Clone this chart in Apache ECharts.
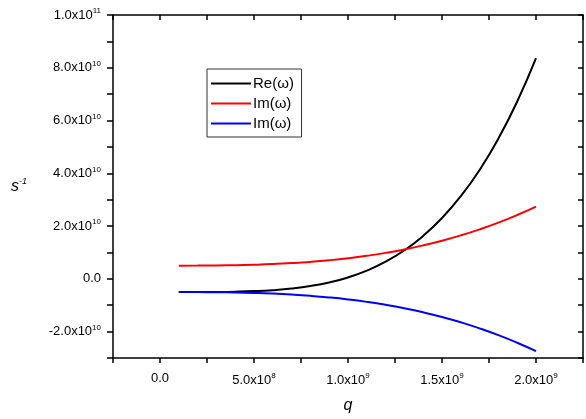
<!DOCTYPE html>
<html>
<head>
<meta charset="utf-8">
<script src="https://cdn.jsdelivr.net/npm/echarts@6/dist/echarts.min.js"></script>
<style>
  html, body { margin: 0; padding: 0; background: #fff; }
  #chart { width: 586px; height: 419px; }
</style>
</head>
<body>
<div id="chart"></div>
<script>
// q values (1/m) and the three branches
var qValues = [1e8, 2e8, 3e8, 4e8, 5e8, 6e8, 7e8, 8e8, 9e8, 1.0e9,
  1.1e9, 1.2e9, 1.3e9, 1.4e9, 1.5e9, 1.6e9, 1.7e9, 1.8e9, 1.9e9, 2.0e9];
var reValues = [-5.0e9, -4.99e9, -4.96e9, -4.86e9, -4.65e9, -4.28e9, -3.67e9, -2.73e9, -1.37e9, 0.54e9,
  3.11e9, 6.49e9, 1.082e10, 1.628e10, 2.305e10, 3.131e10, 4.127e10, 5.316e10, 6.72e10, 8.364e10];
var imUpper = [5.0e9, 5.02e9, 5.08e9, 5.18e9, 5.35e9, 5.6e9, 5.96e9, 6.43e9, 7.04e9, 7.8e9,
  8.73e9, 9.84e9, 1.115e10, 1.268e10, 1.445e10, 1.647e10, 1.876e10, 2.133e10, 2.421e10, 2.74e10];
var imLower = [-5.0e9, -5.02e9, -5.08e9, -5.18e9, -5.35e9, -5.6e9, -5.96e9, -6.43e9, -7.04e9, -7.8e9,
  -8.73e9, -9.84e9, -1.115e10, -1.268e10, -1.445e10, -1.647e10, -1.876e10, -2.133e10, -2.421e10, -2.74e10];
var seriesNames = ['Re(\u03c9)', 'Im(\u03c9)', 'Im(\u03c9) '];

function pairs(ys) {
  var out = [];
  for (var i = 0; i < qValues.length; i++) out.push([qValues[i], ys[i]]);
  return out;
}

// 8.0x10^10 style labels, only every second tick gets one
function sciLabel(step) {
  return function(v) {
    var k = Math.round(v / step);
    if (k % 2 !== 0) return '';
    if (k === 0) return '{m|0.0}';
    var e = Math.floor(Math.log10(Math.abs(v)) + 1e-9);
    var m = (v / Math.pow(10, e)).toFixed(1);
    return '{m|' + m + 'x10}{s|' + e + '}';
  };
}

var rich = {
  m: { fontSize: 13, color: '#000', fontFamily: 'Liberation Sans' },
  s: { fontSize: 8, color: '#000', fontFamily: 'Liberation Sans', padding: [0, 0, 8, 0] }
};
var axisLine = { show: true, onZero: false, lineStyle: { color: '#000', width: 1.5 } };

var myChart = echarts.init(document.getElementById('chart'));
var option = {
  backgroundColor: '#fff',
  animation: false,
  grid: { left: 113, right: 3, top: 15, bottom: 58, containLabel: false },
  legend: {
    orient: 'vertical',
    left: 207,
    top: 69,
    data: seriesNames.map(function(n) { return { name: n, icon: 'rect' }; }),
    itemWidth: 40,
    itemHeight: 2,
    itemGap: 5,
    padding: [7, 6, 6, 4],
    borderColor: '#333',
    borderWidth: 1,
    textStyle: { color: '#000', fontSize: 15, lineHeight: 15, fontFamily: 'Liberation Sans', padding: [0, 0, 0, -3] }
  },
  xAxis: [{
    type: 'value',
    min: -2.5e8,
    max: 2.25e9,
    interval: 2.5e8,
    position: 'bottom',
    name: 'q',
    nameLocation: 'middle',
    nameGap: 40,
    nameTextStyle: { fontSize: 16, fontStyle: 'italic', color: '#000', fontFamily: 'Liberation Sans' },
    axisLine: axisLine,
    axisTick: { show: true, length: 5, lineStyle: { color: '#000', width: 1.5 } },
    axisLabel: { formatter: sciLabel(2.5e8), rich: rich, margin: 14, showMinLabel: true, showMaxLabel: true },
    splitLine: { show: false }
  }, {
    type: 'value',
    min: -2.5e8,
    max: 2.25e9,
    interval: 2.5e8,
    position: 'top',
    axisLine: axisLine,
    axisTick: { show: true, inside: true, length: 5, lineStyle: { color: '#000', width: 1.5 } },
    axisLabel: { show: false },
    splitLine: { show: false }
  }],
  yAxis: [{
    type: 'value',
    min: -3e10,
    max: 1e11,
    interval: 1e10,
    position: 'left',
    name: '{n|s}{e|-1}',
    nameLocation: 'middle',
    nameRotate: 0,
    nameGap: 86,
    nameTextStyle: {
      rich: {
        n: { fontSize: 16, fontStyle: 'italic', color: '#000', fontFamily: 'Liberation Sans' },
        e: { fontSize: 9, fontStyle: 'italic', color: '#000', fontFamily: 'Liberation Sans', padding: [0, 0, 10, 0] }
      }
    },
    axisLine: axisLine,
    axisTick: { show: true, length: 6, lineStyle: { color: '#000', width: 1.5 } },
    axisLabel: { formatter: sciLabel(1e10), rich: rich, margin: 12 },
    splitLine: { show: false }
  }, {
    type: 'value',
    min: -3e10,
    max: 1e11,
    interval: 1e10,
    position: 'right',
    axisLine: axisLine,
    axisTick: { show: true, inside: true, length: 5, lineStyle: { color: '#000', width: 1.5 } },
    axisLabel: { show: false },
    splitLine: { show: false }
  }],
  series: [{
    name: seriesNames[0],
    type: 'line',
    data: pairs(reValues),
    smooth: true,
    symbol: 'none',
    lineStyle: { color: '#000', width: 2 },
    itemStyle: { color: '#000' }
  }, {
    name: seriesNames[1],
    type: 'line',
    data: pairs(imUpper),
    smooth: true,
    symbol: 'none',
    lineStyle: { color: '#ff0000', width: 2 },
    itemStyle: { color: '#ff0000' }
  }, {
    name: seriesNames[2],
    type: 'line',
    data: pairs(imLower),
    smooth: true,
    symbol: 'none',
    lineStyle: { color: '#0000ff', width: 2 },
    itemStyle: { color: '#0000ff' }
  }]
};
myChart.setOption(option);
</script>
</body>
</html>
